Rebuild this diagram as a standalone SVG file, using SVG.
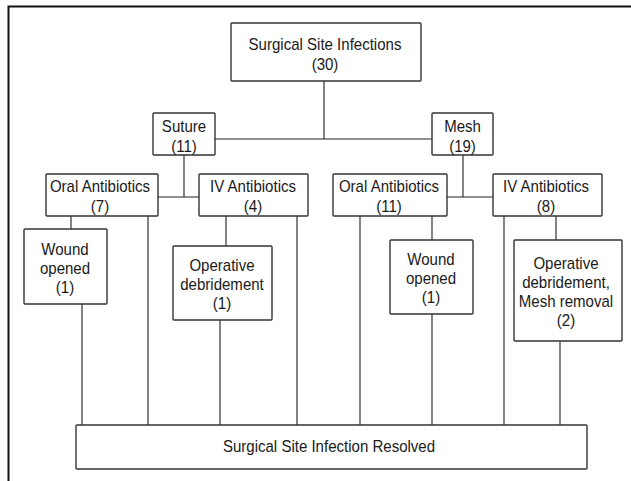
<svg xmlns="http://www.w3.org/2000/svg" width="631" height="481" viewBox="0 0 631 481">
<style>
.box{fill:#fff;stroke:#333;stroke-width:1.4}
.c{stroke:#222;stroke-width:1.1;fill:none}
text{font-family:"Liberation Sans",Arial,sans-serif;font-size:16px;fill:#1a1a1a;text-anchor:middle}
</style>
<rect width="631" height="481" fill="#fff"/>
<path d="M8.5,481 V6.5 H631" fill="none" stroke="#111" stroke-width="2"/>
<g id="connectors">
<path class="c" d="M324,81 V139 M215,139 H432"/>
<path class="c" d="M184,155 V197 M158,197 H199"/>
<path class="c" d="M463,155 V197 M447,197 H493"/>
<path class="c" d="M71,216 V229 M148,216 V425 M82,304 V425"/>
<path class="c" d="M226,216 V246 M297,216 V425 M220,320 V425"/>
<path class="c" d="M360,216 V425 M432,216 V240 M432,314 V425"/>
<path class="c" d="M504,216 V425 M556,216 V240 M560,341 V425"/>
</g>
<g id="ssi"><rect class="box" x="231" y="23" width="190" height="58" rx="1"/><text transform="translate(325,0) scale(0.94,1)" y="50.5">Surgical Site Infections</text><text transform="translate(325,0) scale(0.94,1)" y="70">(30)</text></g>
<g id="suture"><rect class="box" x="153" y="113" width="62" height="42" rx="1"/><text transform="translate(184,0) scale(0.94,1)" y="132.5">Suture</text><text transform="translate(184,0) scale(0.94,1)" y="152.5">(11)</text></g>
<g id="mesh"><rect class="box" x="432" y="113" width="61" height="42" rx="1"/><text transform="translate(462.5,0) scale(0.94,1)" y="132.5">Mesh</text><text transform="translate(462.5,0) scale(0.94,1)" y="152.5">(19)</text></g>
<g id="oral7"><rect class="box" x="46" y="174" width="112" height="42" rx="1"/><text transform="translate(100,0) scale(0.94,1)" y="192.5">Oral Antibiotics</text><text transform="translate(100,0) scale(0.94,1)" y="212">(7)</text></g>
<g id="iv4"><rect class="box" x="199" y="174" width="109" height="42" rx="1"/><text transform="translate(253,0) scale(0.94,1)" y="192.5">IV Antibiotics</text><text transform="translate(253,0) scale(0.94,1)" y="212">(4)</text></g>
<g id="oral11"><rect class="box" x="333" y="174" width="114" height="42" rx="1"/><text transform="translate(389,0) scale(0.94,1)" y="192.5">Oral Antibiotics</text><text transform="translate(389,0) scale(0.94,1)" y="212">(11)</text></g>
<g id="iv8"><rect class="box" x="493" y="174" width="109" height="42" rx="1"/><text transform="translate(546,0) scale(0.94,1)" y="192.5">IV Antibiotics</text><text transform="translate(546,0) scale(0.94,1)" y="212">(8)</text></g>
<g id="woundL"><rect class="box" x="24" y="229" width="83" height="75" rx="1"/><text transform="translate(65,0) scale(0.94,1)" y="255.5">Wound</text><text transform="translate(65,0) scale(0.94,1)" y="274.5">opened</text><text transform="translate(65,0) scale(0.94,1)" y="293.5">(1)</text></g>
<g id="opL"><rect class="box" x="173" y="246" width="99" height="74" rx="1"/><text transform="translate(222,0) scale(0.94,1)" y="271.5">Operative</text><text transform="translate(222,0) scale(0.94,1)" y="290">debridement</text><text transform="translate(222,0) scale(0.94,1)" y="309.5">(1)</text></g>
<g id="woundR"><rect class="box" x="390" y="240" width="83" height="74" rx="1"/><text transform="translate(431,0) scale(0.94,1)" y="265.5">Wound</text><text transform="translate(431,0) scale(0.94,1)" y="284.5">opened</text><text transform="translate(431,0) scale(0.94,1)" y="303.5">(1)</text></g>
<g id="opR"><rect class="box" x="514" y="240" width="108" height="101" rx="1"/><text transform="translate(566,0) scale(0.94,1)" y="269.5">Operative</text><text transform="translate(566,0) scale(0.94,1)" y="288.5">debridement,</text><text transform="translate(566,0) scale(0.94,1)" y="307">Mesh removal</text><text transform="translate(566,0) scale(0.94,1)" y="326.5">(2)</text></g>
<g id="resolved"><rect class="box" x="76" y="425" width="511" height="44" rx="1"/><text transform="translate(329,0) scale(0.94,1)" y="452.5">Surgical Site Infection Resolved</text></g>
</svg>
